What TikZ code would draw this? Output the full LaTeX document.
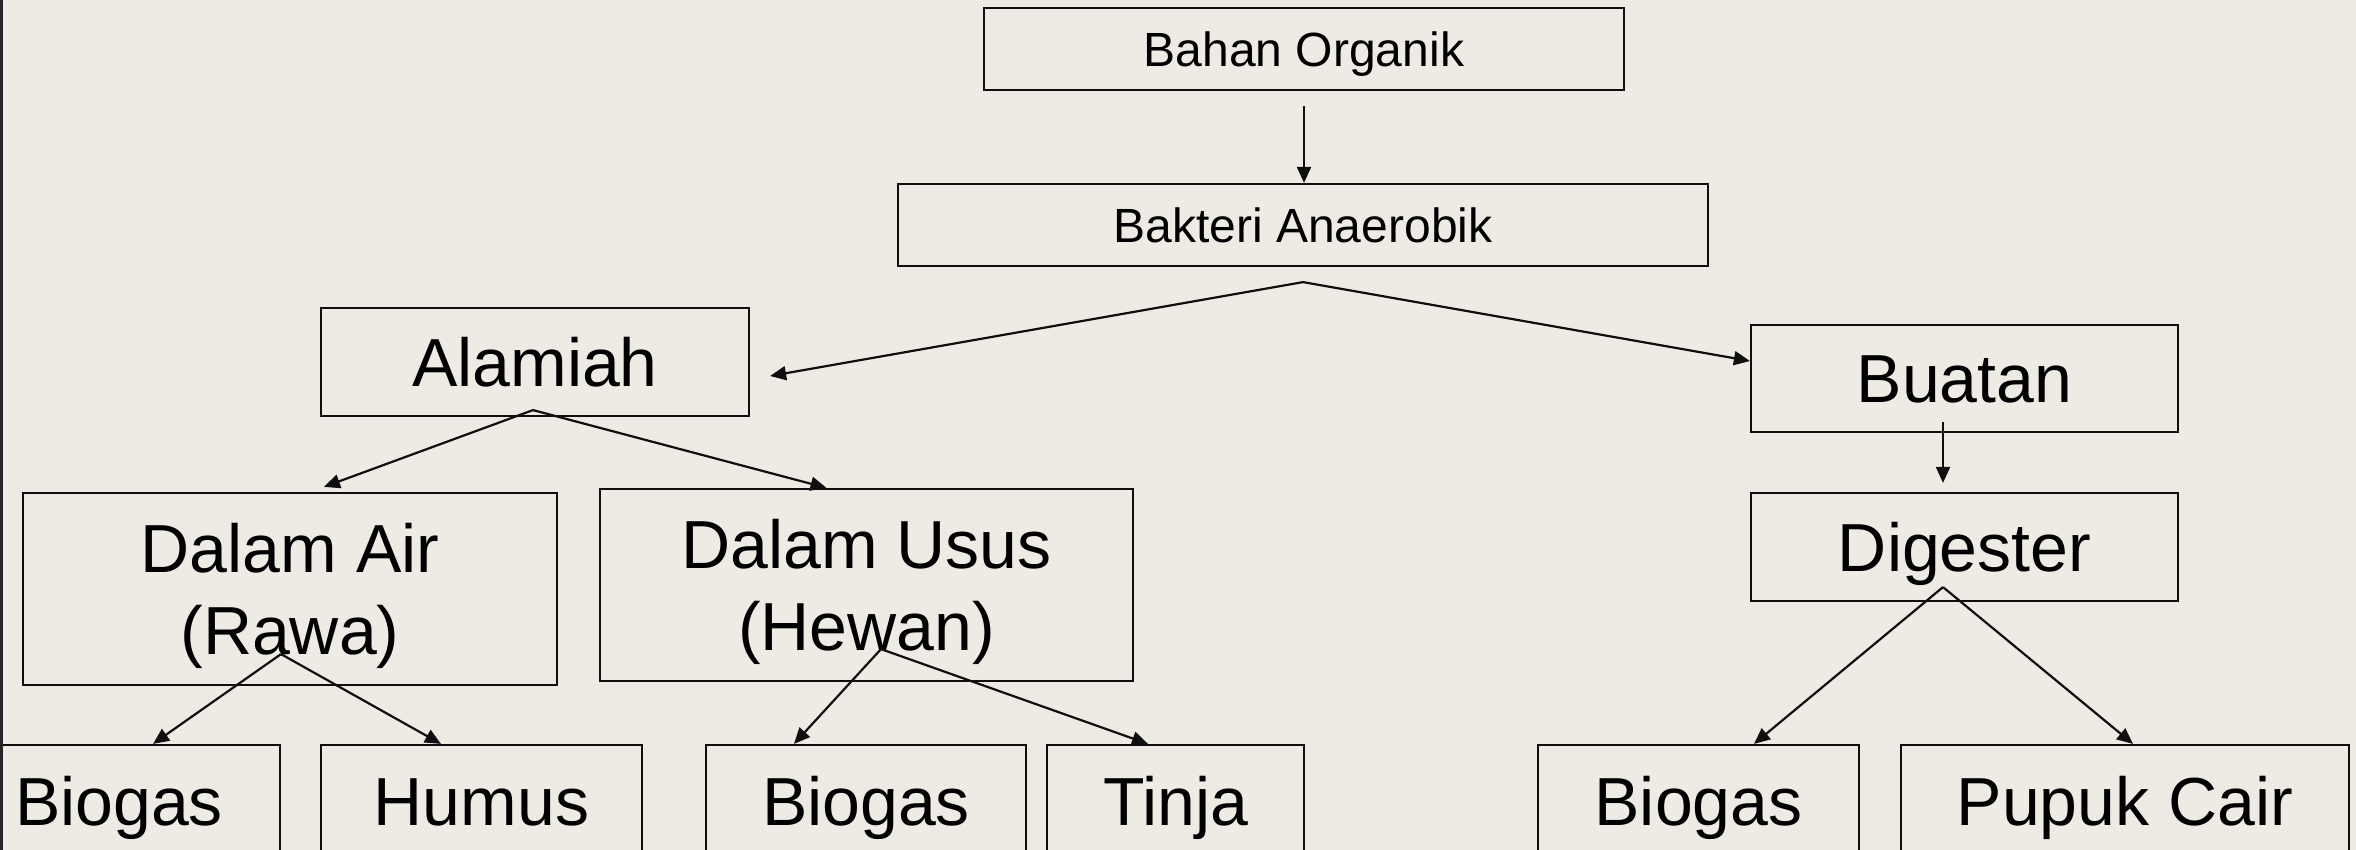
\documentclass[tikz,border=0pt]{standalone}
\usepackage{fontspec}
\setmainfont{Liberation Sans}
\usetikzlibrary{arrows.meta}
\definecolor{slidebg}{RGB}{237,235,227}
\definecolor{ink}{RGB}{15,15,15}

\begin{document}
\begin{tikzpicture}[x=1pt,y=-1pt,line width=2.2pt,
  box/.style={draw=ink,rectangle,inner sep=0pt,text=black,text depth=0pt},
  small/.style={font=\fontsize{48}{58}\selectfont,text height=34.4pt},
  big/.style={font=\fontsize{68}{82}\selectfont,text height=48.7pt},
  twoline/.style={align=center,text height=130.7pt,text depth=0pt},
  arr/.style={draw=ink,-{Triangle[length=16pt,width=14pt]}}]
  \useasboundingbox (0,0) rectangle (2356,850);
  \clip (0,0) rectangle (2356,850);
  \fill[slidebg] (0,0) rectangle (2356,850);
  % ---------------- top ----------------
  \node[box,small,minimum width=640,minimum height=82] (bahan) at (1304,49) {Bahan Organik};
  \node[box,small,minimum width=810,minimum height=82] (bakteri) at (1303,225) {Bakteri Anaerobik};
  % ---------------- alamiah ----------------
  \node[box,big,minimum width=428,minimum height=108] (alamiah) at (535,362) {Alamiah};
  \node[box,big,twoline,minimum width=534,minimum height=192] (air) at (290,589) {Dalam Air\\(Rawa)};
  \node[box,big,twoline,minimum width=533,minimum height=192] (usus) at (866.5,585) {Dalam Usus\\(Hewan)};
  % ---------------- buatan ----------------
  \node[box,big,minimum width=427,minimum height=107] (buatan) at (1964.5,378.5) {Buatan};
  \node[box,big,minimum width=427,minimum height=108] (digester) at (1964.5,547) {Digester};
  % ---------------- bottom row ----------------
  \foreach \nm/\cx/\w/\txt in {bioA/119/322/Biogas,humus/481.5/321/Humus,bioB/866/320/Biogas,
      tinja/1175.5/257/Tinja,bioC/1698.5/321/Biogas,pupuk/2125/448/Pupuk Cair}
    \node[box,big,minimum width=\w,minimum height=112] (\nm) at (\cx,801) {\txt};
  % ---------------- connectors ----------------
  \draw[arr] ([yshift=-15pt]bahan.south) -- ([xshift=1pt]bakteri.north);
  \coordinate (bakJ) at ([yshift=-15pt]bakteri.south);
  \draw[arr] (bakJ) -- ([xshift=20pt,yshift=-14pt]alamiah.east);
  \draw[arr] (bakJ) -- ([yshift=17.5pt]buatan.west);
  \coordinate (alaJ) at ([xshift=-2pt,yshift=7pt]alamiah.south);
  \draw[arr] (alaJ) -- ([xshift=34pt,yshift=5pt]air.north);
  \draw[arr] (alaJ) -- ([xshift=-40pt]usus.north);
  \coordinate (airJ) at ([xshift=-9pt,yshift=32pt]air.south);
  \draw[arr] (airJ) -- ([xshift=34pt]bioA.north);
  \draw[arr] (airJ) -- ([xshift=-40.5pt]humus.north);
  \coordinate (ususJ) at ([xshift=14.5pt,yshift=33pt]usus.south);
  \draw[arr] (ususJ) -- ([xshift=-72pt]bioB.north);
  \draw[arr] (ususJ) -- ([xshift=-27.5pt]tinja.north);
  \draw[arr] ([xshift=-21.5pt,yshift=11pt]buatan.south) -- ([xshift=-21.5pt,yshift=9pt]digester.north);
  \coordinate (digJ) at ([xshift=-21.5pt,yshift=15pt]digester.south);
  \draw[arr] (digJ) -- ([xshift=55.5pt]bioC.north);
  \draw[arr] (digJ) -- ([xshift=8pt]pupuk.north);
  % slide edge
  \draw[line width=3pt,black!85] (1.5,0) -- (1.5,850);
\end{tikzpicture}
\end{document}
